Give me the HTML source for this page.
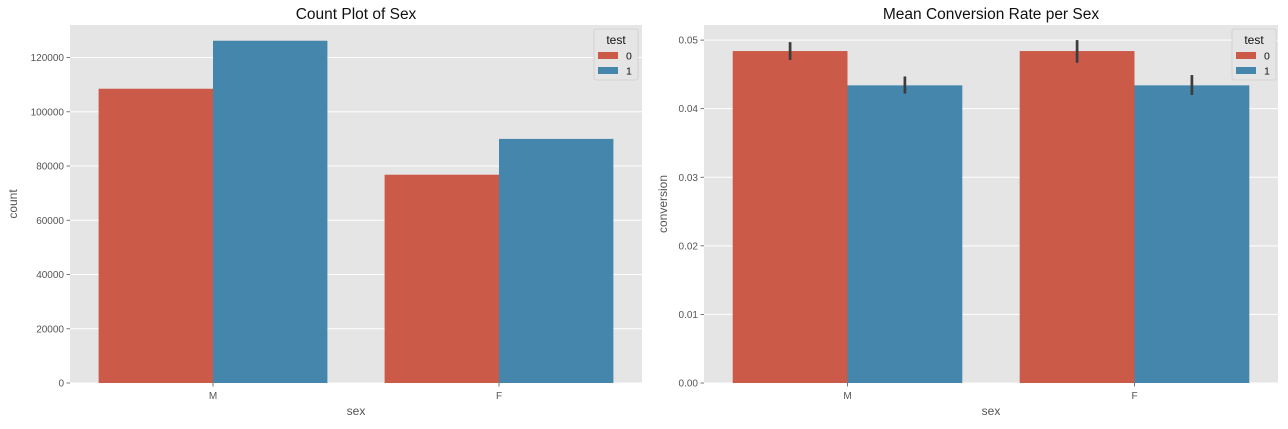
<!DOCTYPE html>
<html><head><meta charset="utf-8"><style>
body{margin:0;background:#fff;}
svg text{font-family:"Liberation Sans","DejaVu Sans",sans-serif;}
</style></head><body>
<svg id="c" width="1288" height="424" xmlns="http://www.w3.org/2000/svg"></svg>
<script>
const categories = ["M","F"];
const groups = ["0","1"];
const countVals0 = [108500, 76800];
const countVals1 = [126200, 90000];
const countTicks = [0,20000,40000,60000,80000,100000,120000];
const convVals0 = [0.0484, 0.0484];
const convVals1 = [0.0434, 0.0434];
const convErrLo0 = [0.0471, 0.0467];
const convErrHi0 = [0.0497, 0.0500];
const convErrLo1 = [0.0422, 0.0420];
const convErrHi1 = [0.0447, 0.0449];
const convTicks = [0,0.01,0.02,0.03,0.04,0.05];
const colors = ["#cc5a48","#4586ad"];
const NS="http://www.w3.org/2000/svg";
const svg=document.getElementById('c');
function mk(t,a,p){const e=document.createElementNS(NS,t);for(const k in a)e.setAttribute(k,a[k]);(p||svg).appendChild(e);return e;}
function panel(o){
  const g=mk('g',{});
  
  
  const L=o.x0,R=o.x1,T=25,B=383;
  const bg=mk('rect',{x:L,y:T,width:R-L,height:B-T,fill:'#e5e5e5'},g);
  
  const y=v=>B-(v/o.ymax)*(B-T);
  const x=c=>L+(c+0.5)*(R-L)/2;
  const unit=(R-L)/2;
  o.ticks.forEach((t,i)=>{
    const yy=y(t);
    mk('line',{x1:L,x2:R,y1:yy,y2:yy,stroke:'#fff','stroke-width':1},g);
    mk('line',{x1:L-3.5,x2:L,y1:yy,y2:yy,stroke:'#555','stroke-width':0.8},g);
    const tx=mk('text',{x:L-6,y:yy+3.5,'font-size':10,fill:'#555','text-anchor':'end'},g);
    tx.textContent=o.fmt(t);
    
  });
  categories.forEach((c,i)=>{
    [o.v0,o.v1].forEach((arr,j)=>{
      const bx=x(i)-0.4*unit+j*0.4*unit;
      const r=mk('rect',{x:bx,y:y(arr[i]),width:0.4*unit,height:B-y(arr[i]),fill:colors[j]},g);
      
      
      if(o.lo){
        const lo=[o.lo[0],o.lo[1]][j], hi=[o.hi[0],o.hi[1]][j];
        const ex=bx+0.2*unit;
        const l=mk('line',{x1:ex,x2:ex,y1:y(lo[i]),y2:y(hi[i]),stroke:'#3c3c3c','stroke-width':2.7},g);
        
        
      }
    });
    mk('line',{x1:x(i),x2:x(i),y1:B,y2:B+3.5,stroke:'#555','stroke-width':0.8},g);
    const tx=mk('text',{x:x(i),y:B+16,'font-size':10,fill:'#555','text-anchor':'middle'},g);
    tx.textContent=c;
    
  });
  const tt=mk('text',{x:(L+R)/2,y:19,'font-size':15.5,fill:'#111','text-anchor':'middle'},g);
  tt.textContent=o.title;
  const xl=mk('text',{x:(L+R)/2,y:415,'font-size':12,fill:'#555','text-anchor':'middle'},g);
  xl.textContent='sex';
  const yl=mk('text',{x:0,y:0,'font-size':12,fill:'#555','text-anchor':'middle',transform:`translate(${o.ylx},${(T+B)/2}) rotate(-90)`},g);
  yl.textContent=o.ylabel;
  const lg=mk('g',{},g);
  
  const lx=o.lgx;
  mk('rect',{x:lx,y:29,width:44,height:51,rx:2,fill:'#e5e5e5',stroke:'#d0d0d0','stroke-width':0.8},lg);
  const lt=mk('text',{x:lx+22,y:44,'font-size':12,fill:'#111','text-anchor':'middle'},lg);lt.textContent='test';
  groups.forEach((gn,j)=>{
    mk('rect',{x:lx+4,y:52+j*15,width:20,height:7,fill:colors[j]},lg);
    const t=mk('text',{x:lx+32,y:59.5+j*15,'font-size':10.5,fill:'#111'},lg);t.textContent=gn;
    
  });
}
panel({name:'count-plot',x0:70,x1:642,ymax:132000,ticks:countTicks,fmt:t=>String(t),v0:countVals0,v1:countVals1,title:'Count Plot of Sex',ylabel:'count',ylx:17,lgx:594});
panel({name:'conversion-plot',x0:704,x1:1278,ymax:0.0522,ticks:convTicks,fmt:t=>t.toFixed(2),v0:convVals0,v1:convVals1,lo:[convErrLo0,convErrLo1],hi:[convErrHi0,convErrHi1],title:'Mean Conversion Rate per Sex',ylabel:'conversion',ylx:667,lgx:1232});
</script>
</body></html>
